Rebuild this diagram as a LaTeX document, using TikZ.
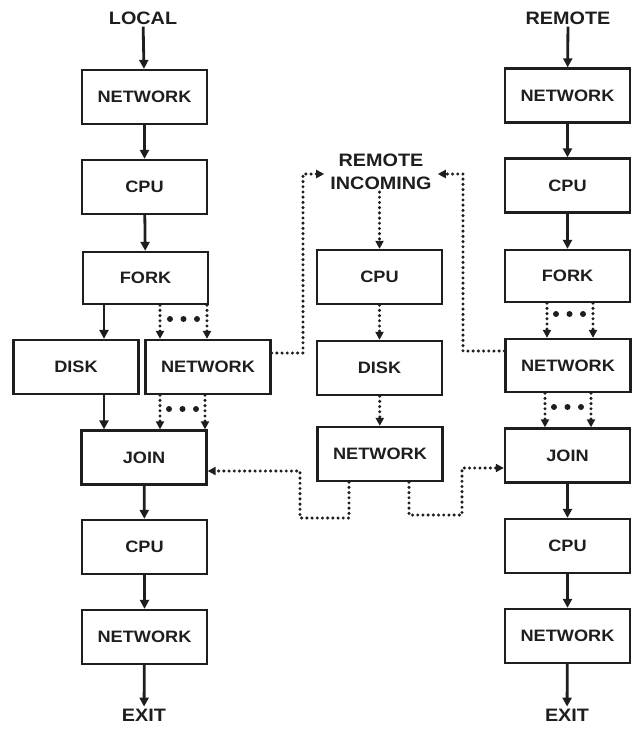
\documentclass[tikz,border=0pt]{standalone}
\usepackage{fontspec}
\setmainfont[FakeStretch=1.1]{Liberation Sans}
\usetikzlibrary{arrows.meta}
\definecolor{ink}{HTML}{1E1E1E}
\begin{document}
\begin{tikzpicture}[x=1pt,y=-1pt,
  box/.style={draw=ink,line width=2.3pt,minimum width=125pt,minimum height=54pt,inner sep=0pt,
    font=\fontsize{16.5}{19}\selectfont\bfseries,text=ink},
  lbl/.style={inner sep=2pt,font=\fontsize{18}{21}\selectfont\bfseries,text=ink,align=center},
  sarrow/.style={draw=ink,line width=2.8pt,-{Triangle[length=9pt,width=9pt]}},
  darrow/.style={draw=ink,line width=3.4pt,line cap=round,dash pattern=on 0pt off 5.2pt,
    -{Triangle[length=8pt,width=8pt]}},
  bigdot/.style={fill=ink}
]
\useasboundingbox (0,0) rectangle (636,729);

% labels
\node[lbl] (local) at (143,18) {LOCAL};
\node[lbl] (remote) at (568,18) {REMOTE};
\node[lbl] (lexit) at (144,715) {EXIT};
\node[lbl] (rexit) at (567,715) {EXIT};
\node[lbl,inner xsep=6pt,inner ysep=2pt,font=\fontsize{18}{23}\selectfont\bfseries] (incoming) at (381,172) {REMOTE\\INCOMING};

% left column
\node[box] (lnet1) at (144.5,97) {NETWORK};
\node[box] (lcpu1) at (144.5,187) {CPU};
\node[box,minimum height=52pt] (lfork) at (145.5,278) {FORK};
\node[box] (ldisk) at (76,367) {DISK};
\node[box] (lnet2) at (208,367) {NETWORK};
\node[box] (ljoin) at (144,457.5) {JOIN};
\node[box] (lcpu2) at (144.5,547) {CPU};
\node[box] (lnet3) at (144.5,637) {NETWORK};

% middle column
\node[box] (mcpu) at (379.5,277) {CPU};
\node[box] (mdisk) at (379.5,368) {DISK};
\node[box] (mnet) at (380,454) {NETWORK};

% right column
\node[box] (rnet1) at (567.5,95.5) {NETWORK};
\node[box] (rcpu1) at (567.5,185.5) {CPU};
\node[box,minimum height=52pt] (rfork) at (567.5,276) {FORK};
\node[box,minimum height=53pt] (rnet2) at (568,365.5) {NETWORK};
\node[box] (rjoin) at (567.5,455.5) {JOIN};
\node[box] (rcpu2) at (567.5,546) {CPU};
\node[box] (rnet3) at (567.5,636) {NETWORK};

% left solid arrows
\draw[sarrow] (local) -- (lnet1);
\draw[sarrow] (lnet1) -- (lcpu1);
\draw[sarrow] (lcpu1) -- (lfork);
\draw[sarrow] ([xshift=-41.5pt]lfork.south) -- ([xshift=-41.5pt]lfork.south |- ldisk.north);
\draw[sarrow] ([xshift=28pt]ldisk.south) -- ([xshift=28pt]ldisk.south |- ljoin.north);
\draw[sarrow] (ljoin) -- (lcpu2);
\draw[sarrow] (lcpu2) -- (lnet3);
\draw[sarrow] (lnet3) -- (lexit);

% left dotted fork arrows
\draw[darrow] ([xshift=14.5pt]lfork.south) -- ([xshift=14.5pt]lfork.south |- lnet2.north);
\draw[darrow] ([xshift=61.5pt]lfork.south) -- ([xshift=61.5pt]lfork.south |- lnet2.north);
\foreach \x in {170,183.5,197} \fill[bigdot] (\x,319) circle (3pt);
\draw[darrow] ([xshift=-48pt]lnet2.south) -- ([xshift=-48pt]lnet2.south |- ljoin.north);
\draw[darrow] ([xshift=-3pt]lnet2.south) -- ([xshift=-3pt]lnet2.south |- ljoin.north);
\foreach \x in {169,182.5,196} \fill[bigdot] (\x,409) circle (3pt);

% right solid arrows
\draw[sarrow] (remote) -- (rnet1);
\draw[sarrow] (rnet1) -- (rcpu1);
\draw[sarrow] (rcpu1) -- (rfork);
\draw[sarrow] (rjoin) -- (rcpu2);
\draw[sarrow] (rcpu2) -- (rnet3);
\draw[sarrow] (rnet3) -- (rexit);

% right dotted fork arrows
\draw[darrow] ([xshift=-20.5pt]rfork.south) -- ([xshift=-20.5pt]rfork.south |- rnet2.north);
\draw[darrow] ([xshift=25.5pt]rfork.south) -- ([xshift=25.5pt]rfork.south |- rnet2.north);
\foreach \x in {556,569.5,583} \fill[bigdot] (\x,314) circle (3pt);
\draw[darrow] ([xshift=-23pt]rnet2.south) -- ([xshift=-23pt]rnet2.south |- rjoin.north);
\draw[darrow] ([xshift=23pt]rnet2.south) -- ([xshift=23pt]rnet2.south |- rjoin.north);
\foreach \x in {554,567.5,581} \fill[bigdot] (\x,407) circle (3pt);

% to remote incoming
\coordinate (lin) at (303,174);
\coordinate (rin) at (463,174);
\draw[darrow] ([yshift=14pt]lnet2.east) -| (lin) -- (lin -| incoming.west);
\draw[darrow] ([yshift=14.5pt]rnet2.west) -| (rin) -- (rin -| incoming.east);

% middle chain
\draw[darrow] (incoming.south -| mcpu.north) -- (mcpu.north);
\draw[darrow] (mcpu) -- (mdisk);
\draw[darrow] (mdisk) -- (mnet);

% middle network to joins
\coordinate (lb) at (300,518);
\coordinate (rb) at (462,515);
\draw[darrow] ([xshift=-31pt]mnet.south) |- (lb) |- ([yshift=-13.5pt]ljoin.east);
\draw[darrow] ([xshift=29pt]mnet.south) |- (rb) |- ([yshift=-12.5pt]rjoin.west);
\end{tikzpicture}
\end{document}
